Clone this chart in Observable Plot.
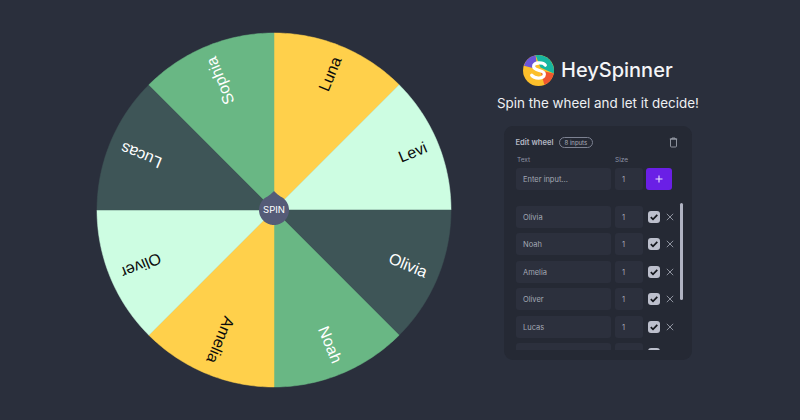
<!DOCTYPE html>
<html>
<head>
<meta charset="utf-8">
<script src="https://cdn.jsdelivr.net/npm/d3@7"></script>
<script src="https://cdn.jsdelivr.net/npm/@observablehq/plot@0.6"></script>
<style>
html,body{margin:0;padding:0;width:800px;height:420px;overflow:hidden;background:#2a2f3c;font-family:Inter,"Noto Sans",sans-serif;}
#chart{position:absolute;left:0;top:0;}
#chart svg{display:block;background:transparent;}
.abs{position:absolute;}
#brand{left:561px;top:56px;font-size:20px;font-weight:500;color:#f4f5f7;line-height:28px;white-space:nowrap;}
#tag{left:497px;top:94px;font-size:13.4px;color:#eef0f3;line-height:18px;white-space:nowrap;}
#logo{left:523px;top:54.5px;width:31px;height:31px;}
#panel{left:504px;top:126px;width:188px;height:234px;background:#252934;border-radius:9px;overflow:hidden;}
.t{position:absolute;white-space:nowrap;}
.field{position:absolute;background:#2c303d;border-radius:3px;height:22px;font-size:7.5px;line-height:23px;color:#a3a8b4;}
.add{position:absolute;left:142px;top:42px;width:26px;height:22px;background:#6a1fe6;border-radius:3px;}
.chk{position:absolute;left:144px;width:12px;height:12px;border-radius:3px;background:#bcbfcc;}
.chk svg,.del svg{display:block;}
.del{position:absolute;left:162px;width:8px;height:8px;}
#rows{position:absolute;left:0;top:0;width:188px;height:224px;overflow:hidden;}
#bar{position:absolute;left:176px;top:77px;width:3px;height:97px;border-radius:2px;background:#b0b3c2;}
</style>
</head>
<body>
<div id="chart"></div>
<svg id="logo" class="abs" viewBox="-16 -16 32 32">
  <circle r="16" fill="#fcbf2b"/>
  <path d="M-15 -5 A16 16 0 0 1 -3 -15.7 L-2 -8 L-4 -2 Z" fill="#6a55d8"/>
  <path d="M-3 -15.7 A16 16 0 0 1 15.7 3 L2 -3 Z" fill="#17b6a0"/>
  <path d="M15.7 3 A16 16 0 0 1 6 14.8 L2 0 Z" fill="#f0562f"/>
  <path d="M7 -5.5 C5 -8.5 -5.5 -9 -5 -4 C-4.5 1 6.5 -1 6 4 C5.5 9 -4 9 -7 5" fill="none" stroke="#fff" stroke-width="3.4" stroke-linecap="round"/>
</svg>
<div id="brand" class="abs">HeySpinner</div>
<div id="tag" class="abs">Spin the wheel and let it decide!</div>
<div id="panel" class="abs">
  <div class="t" style="left:11.5px;top:12px;font-size:7.6px;font-weight:600;color:#b4b8c4">Edit wheel</div>
  <div class="t" style="left:55px;top:11px;height:9px;line-height:9px;padding:0 4.5px;border:1px solid #7d8292;border-radius:7px;font-size:6px;color:#a9adba">8 inputs</div>
  <svg class="t" style="left:165px;top:11px" width="9" height="11" viewBox="0 0 9 11"><path d="M1.5 2 H7.5 V9 Q7.5 10 6.5 10 H2.5 Q1.5 10 1.5 9 Z M0.8 2 H8.2 M3 2 V1 H6 V2" fill="none" stroke="#9a9ea9" stroke-width=".9"/></svg>
  <div class="t" style="left:13px;top:30px;font-size:6.5px;color:#8d93a5">Text</div>
  <div class="t" style="left:111px;top:30px;font-size:6.5px;color:#8d93a5">Size</div>
  <div class="field" style="left:12px;top:42px;width:88px;padding-left:7px;">Enter input...</div>
  <div class="field" style="left:111px;top:42px;width:21px;padding-left:7px;">1</div>
  <div class="add"><svg width="26" height="22" viewBox="0 0 26 22"><path d="M9.5 11 H16.5 M13 7.5 V14.5" stroke="#e8e0ff" stroke-width="1.1"/></svg></div>
  <div id="rows"></div>
  <div id="bar"></div>
</div>
<script>
const names = ["Luna", "Levi", "Olivia", "Noah", "Amelia", "Oliver", "Lucas", "Sophia"];
const sizes = [1, 1, 1, 1, 1, 1, 1, 1];
const sliceColors = ["#ffd04b", "#cdfde2", "#3e5557", "#69b784", "#ffd04b", "#cdfde2", "#3e5557", "#69b784"];
const labelColors = ["#0b0b0b", "#0b0b0b", "#ffffff", "#ffffff", "#0b0b0b", "#0b0b0b", "#ffffff", "#ffffff"];
const inputOrder = ["Olivia", "Noah", "Amelia", "Oliver", "Lucas", "Sophia"];
const inputSizes = [1, 1, 1, 1, 1, 1];

const W = 800, H = 420, cx = 273.5, cy = 209.5, R = 177;
const total = d3.sum(sizes);
let acc = 0;
const slices = names.map((name, i) => {
  const start = acc / total * 2 * Math.PI;
  acc += sizes[i];
  const end = acc / total * 2 * Math.PI;
  const pts = [{a: 0, r: 0}];
  for (let k = 0; k <= 48; k++) pts.push({a: start + (end - start) * k / 48, r: R});
  pts.push({a: 0, r: 0});
  return {name, mid: (start + end) / 2, fill: sliceColors[i], ink: labelColors[i],
    pts: pts.map(p => ({x: p.r * Math.sin(p.a), y: p.r * Math.cos(p.a)}))};
});
const labelR = 165;
const labels = slices.map(s => ({
  name: s.name, ink: s.ink,
  x: labelR * Math.sin(s.mid), y: labelR * Math.cos(s.mid),
  rotate: s.mid * 180 / Math.PI - 90
}));
// Spin hub: a round knob with a small pointer on top.
const hubR = 15;
const hub = [];
for (let k = 0; k <= 120; k++) {
  const a = k / 120 * 2 * Math.PI;
  const d = Math.min(a, 2 * Math.PI - a);
  const r = hubR + 4 * Math.pow(Math.max(0, 1 - d / 0.5), 2.2);
  hub.push({x: r * Math.sin(a), y: r * Math.cos(a)});
}

const plot = Plot.plot({
  width: W, height: H,
  margin: 0,
  x: {domain: [-cx, W - cx], axis: null},
  y: {domain: [cy - H, cy], axis: null},
  style: {background: "transparent"},
  marks: [
    ...slices.map(s => Plot.line(s.pts, {x: "x", y: "y", fill: s.fill, stroke: s.fill, strokeWidth: 0.5, curve: "linear"})),
    Plot.text(labels, {
      x: "x", y: "y", text: "name", rotate: "rotate", fill: "ink",
      textAnchor: "end", lineAnchor: "middle", fontSize: 16,
      fontFamily: "'Liberation Sans', Arial, sans-serif"
    }),
    Plot.line(hub, {x: "x", y: "y", fill: "#555b77", stroke: "none"}),
    Plot.text([{x: 0, y: 0, t: "SPIN"}], {x: "x", y: "y", text: "t", fill: "#ffffff", fontSize: 9.5, fontFamily: "Inter, sans-serif", fontWeight: 400})
  ]
});
document.getElementById("chart").append(plot);

const tops = [80, 107, 135, 162, 190, 217];
const rows = document.getElementById("rows");
inputOrder.forEach((n, i) => {
  const top = tops[i];
  const hidden = i === 5;
  rows.insertAdjacentHTML("beforeend",
    `<div class="field" style="left:12px;top:${top}px;width:88px;padding-left:7px;">${hidden ? "" : n}</div>` +
    `<div class="field" style="left:111px;top:${top}px;width:21px;padding-left:7px;">${hidden ? "" : inputSizes[i]}</div>` +
    `<div class="chk" style="top:${top + 5}px"><svg width="12" height="12" viewBox="0 0 12 12"><path d="M2.8 6.2 L5 8.4 L9.3 3.8" fill="none" stroke="#14161c" stroke-width="1.7"/></svg></div>` +
    (hidden ? "" : `<div class="del" style="top:${top + 7}px"><svg width="8" height="8" viewBox="0 0 8 8"><path d="M.8 .8 L7.2 7.2 M7.2 .8 L.8 7.2" stroke="#9a9ea9" stroke-width=".9"/></svg></div>`));
});
</script>
</body>
</html>
